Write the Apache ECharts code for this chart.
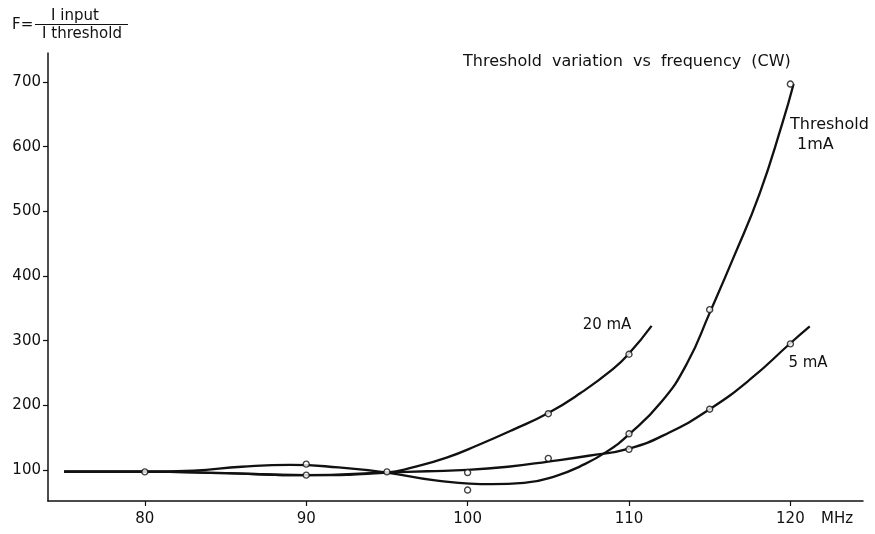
<!DOCTYPE html>
<html>
<head>
<meta charset="utf-8">
<script src="https://cdn.jsdelivr.net/npm/echarts@6/dist/echarts.min.js"></script>
<style>
  html, body { margin: 0; padding: 0; background: #fff; }
  #chart { width: 875px; height: 534px; }
</style>
</head>
<body>
<div id="chart"></div>
<script>
// axis ticks
const freqTicks = [80, 90, 100, 110, 120];
const fTicks = [100, 200, 300, 400, 500, 600, 700];

// drawn curves, [MHz, F]
const curve1mA = [
  [75, 97.5], [80, 97.5], [83, 99], [86, 105], [89, 108], [92, 104], [95, 96],
  [98, 84], [101.5, 78], [103.5, 80], [105.5, 91], [107, 106], [108.6, 128],
  [110, 155], [112, 205], [113.6, 265], [115, 343], [116.5, 430], [118.1, 528],
  [119.5, 636], [120.2, 697]
];
const curve5mA = [
  [75, 97.5], [80, 97.5], [85, 95], [90, 92], [95, 96], [97.5, 98], [100, 100],
  [102.5, 105], [105, 113], [107.5, 122], [110, 133], [112.5, 158], [115, 194],
  [117.5, 240], [120, 296], [121.2, 322]
];
const curve20mA = [
  [75, 97.5], [80, 97.5], [85, 95], [90, 92], [95, 96], [96.6, 104], [98.7, 119],
  [100.7, 139], [102.8, 162], [105, 188], [107, 219], [109, 256], [110, 280],
  [111.4, 323]
];

// measured points (open circles)
const measured = [
  [80, 97], [90, 109], [90, 92], [95, 97], [100, 96], [100, 69],
  [105, 187], [105, 118], [110, 279], [110, 156], [110, 132],
  [115, 348], [115, 194], [120, 697], [120, 295]
];

const FONT = "DejaVu Sans";
const ink = "#111";

const chart = echarts.init(document.getElementById("chart"), null, { renderer: "canvas" });

function curve(name, data) {
  return {
    name,
    type: "line",
    data,
    smooth: 0.5,
    symbol: "none",
    silent: true,
    lineStyle: { color: ink, width: 2.3 },
    z: 2
  };
}

function txt(text, x, y, size, align) {
  return {
    type: "text",
    x, y,
    silent: true,
    style: {
      text,
      font: size + "px " + FONT,
      fill: ink,
      align: align || "left",
      verticalAlign: "middle"
    }
  };
}

chart.setOption({
  animation: false,
  backgroundColor: "#fff",
  grid: { left: 48, right: 12, top: 53, bottom: 33 },
  xAxis: {
    type: "value",
    min: 74,
    max: 124.5,
    axisLine: { show: true, onZero: false, lineStyle: { color: ink, width: 1.5 } },
    axisTick: { show: true, customValues: freqTicks, length: 5, lineStyle: { color: ink, width: 1.2 } },
    axisLabel: { customValues: freqTicks, margin: 11, fontFamily: FONT, fontSize: 15, color: ink },
    splitLine: { show: false }
  },
  yAxis: {
    type: "value",
    min: 52,
    max: 745,
    axisLine: { show: true, onZero: false, lineStyle: { color: ink, width: 1.5 } },
    axisTick: { show: true, customValues: fTicks, length: 5, lineStyle: { color: ink, width: 1.2 } },
    axisLabel: { customValues: fTicks, margin: 7, fontFamily: FONT, fontSize: 15, color: ink },
    splitLine: { show: false }
  },
  tooltip: { show: false },
  series: [
    curve("Threshold 1mA", curve1mA),
    curve("5 mA", curve5mA),
    curve("20 mA", curve20mA),
    {
      name: "measured",
      type: "scatter",
      data: measured,
      symbol: "circle",
      symbolSize: 6,
      silent: true,
      itemStyle: { color: "#fff", borderColor: ink, borderWidth: 1.4 },
      z: 3
    }
  ],
  graphic: [
    txt("F=", 12, 25, 15),
    txt("I input", 75, 16, 15, "center"),
    {
      type: "line",
      silent: true,
      shape: { x1: 35, y1: 24.5, x2: 128, y2: 24.5 },
      style: { stroke: ink, lineWidth: 1 }
    },
    txt("I threshold", 82, 34, 15, "center"),
    txt("Threshold  variation  vs  frequency  (CW)", 463, 61.5, 16),
    txt("20 mA", 607, 325, 15, "center"),
    txt("5 mA", 808, 363, 15, "center"),
    txt("Threshold", 790, 125, 16),
    txt("1mA", 797, 145, 16),
    txt("MHz", 821, 519, 15)
  ]
});
</script>
</body>
</html>
